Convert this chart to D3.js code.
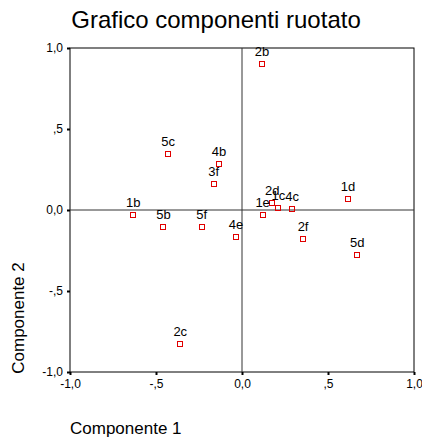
<!DOCTYPE html>
<html><head><meta charset="utf-8">
<script src="https://cdn.jsdelivr.net/npm/d3@7/dist/d3.min.js"></script>
<style>body{margin:0;background:#fff}svg{display:block}text{font-family:Arial,"Liberation Sans",sans-serif}</style>
</head><body>
<script>
const labels = ["2b","5c","4b","3f","1b","5b","5f","4e","2d","1c","4c","1e","1d","2f","5d","2c"];
const comp1  = [0.116,-0.430,-0.134,-0.165,-0.632,-0.457,-0.234,-0.035,0.176,0.211,0.292,0.120,0.616,0.355,0.670,-0.359];
const comp2  = [0.900,0.348,0.284,0.159,-0.033,-0.103,-0.103,-0.169,0.045,0.010,0.004,-0.031,0.068,-0.181,-0.280,-0.825];
const ticks = [-1,-0.5,0,0.5,1];
const tickLabels = ["-1,0","-,5","0,0",",5","1,0"];

const W=422,H=437;
const svg=d3.select("body").append("svg").attr("width",W).attr("height",H);
const x=d3.scaleLinear().domain([-1,1]).range([70,414]);
const y=d3.scaleLinear().domain([-1,1]).range([372,48]);

svg.append("text").attr("x",216).attr("y",28).attr("text-anchor","middle")
  .attr("font-size",24).attr("fill","#000").text("Grafico componenti ruotato");

svg.append("rect").attr("x",x(-1)).attr("y",y(1)).attr("width",x(1)-x(-1)).attr("height",y(-1)-y(1))
  .attr("fill","none").attr("stroke","#000").attr("stroke-width",1);
svg.append("line").attr("x1",x(0)).attr("x2",x(0)).attr("y1",y(1)).attr("y2",y(-1)).attr("stroke","#333");
svg.append("line").attr("x1",x(-1)).attr("x2",x(1)).attr("y1",y(0)).attr("y2",y(0)).attr("stroke","#333");

const fmt=d=>tickLabels[ticks.indexOf(d)];
const xAxis=svg.append("g").attr("transform",`translate(0,${y(-1)})`)
  .call(d3.axisBottom(x).tickValues(ticks).tickFormat(fmt).tickSize(3).tickPadding(4));
const yAxis=svg.append("g").attr("transform",`translate(${x(-1)},0)`)
  .call(d3.axisLeft(y).tickValues(ticks).tickFormat(fmt).tickSize(3).tickPadding(4));
[xAxis,yAxis].forEach(g=>{
  g.select(".domain").remove();
  g.selectAll(".tick line").attr("stroke","#000").attr("stroke-width",2);
  g.selectAll(".tick text").attr("font-size",12).attr("fill","#000").attr("font-family","Arial,'Liberation Sans',sans-serif");
});

svg.append("text").attr("x",70).attr("y",434).attr("font-size",17).attr("fill","#000").text("Componente 1");
svg.append("text").attr("transform","translate(24,318) rotate(-90)").attr("text-anchor","middle")
  .attr("font-size",17).attr("fill","#000").text("Componente 2");

const pts=labels.map((l,i)=>({l,a:comp1[i],b:comp2[i]}));
svg.append("g").selectAll("rect").data(pts).join("rect")
  .attr("x",d=>Math.round(x(d.a))-2.5).attr("y",d=>Math.round(y(d.b))-2.5).attr("width",5).attr("height",5)
  .attr("fill","none").attr("stroke","#e00000").attr("stroke-width",1);
svg.append("g").selectAll("text").data(pts).join("text")
  .attr("x",d=>x(d.a)).attr("y",d=>y(d.b)-8).attr("text-anchor","middle")
  .attr("font-size",13).attr("fill","#000").text(d=>d.l);
</script>
</body></html>
